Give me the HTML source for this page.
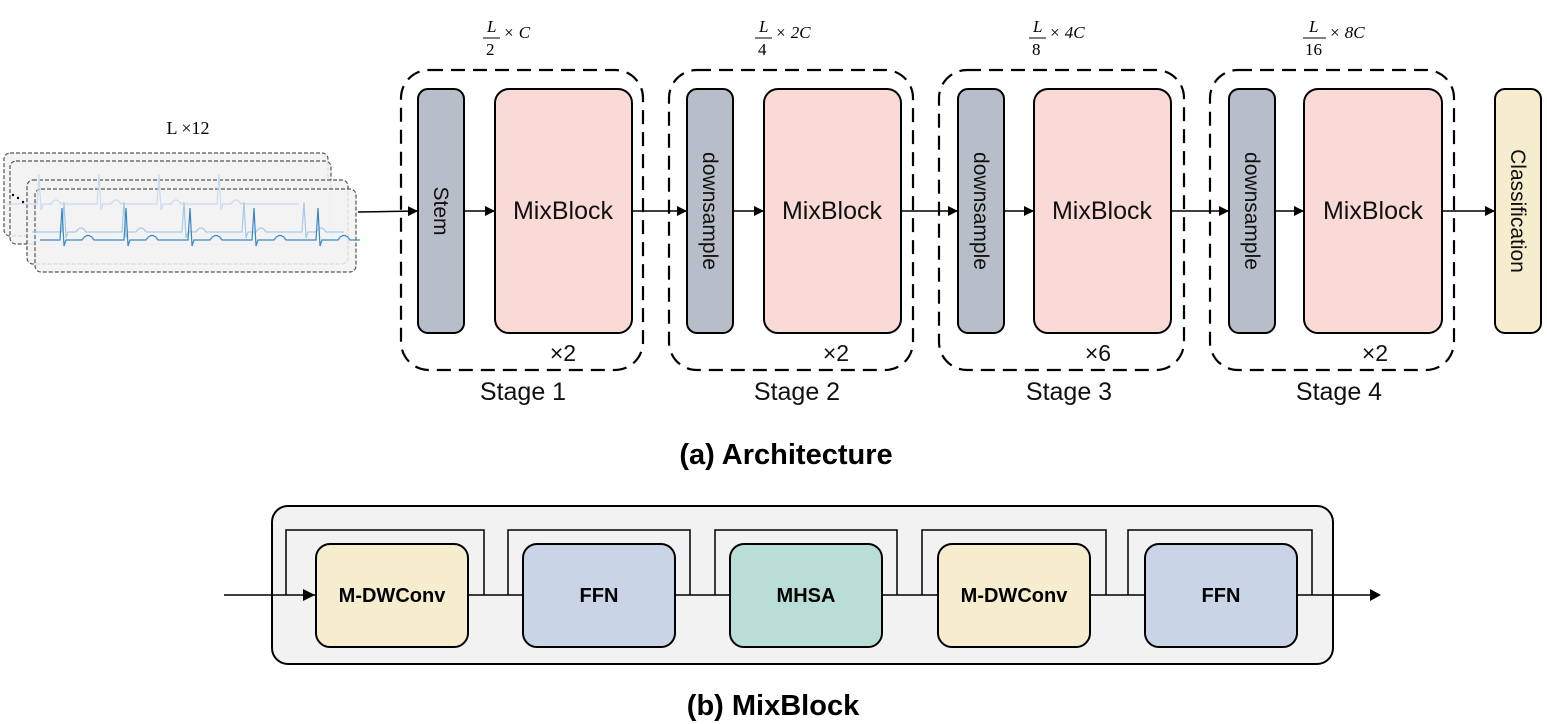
<!DOCTYPE html>
<html><head><meta charset="utf-8"><style>body{margin:0;background:#fff}svg{display:block}</style></head><body>
<svg width="1547" height="724" viewBox="0 0 1547 724" xmlns="http://www.w3.org/2000/svg" font-family="'Liberation Sans',sans-serif">
<defs><marker id="a" markerWidth="10" markerHeight="10" refX="9" refY="5" orient="auto" markerUnits="userSpaceOnUse"><path d="M0,0 L10,5 L0,10 z" fill="#000"/></marker></defs>
<g stroke="#555" stroke-dasharray="4,2" stroke-width="1.2" fill="#f2f2f2" fill-opacity="0.85">
<rect x="4" y="153" width="324" height="83" rx="6"/>
<rect x="10" y="161" width="321" height="83" rx="6"/>
<rect x="27" y="180" width="321" height="84" rx="6"/>
<rect x="35" y="189" width="321" height="83" rx="6"/>
</g>
<g fill="none" stroke-width="1.2">
<path d="M7,204 l30,0 l2,-30 l2,36 l2,-6 l8,0 q5,-8 10,0 l18,0 l18,0 l2,-30 l2,36 l2,-6 l8,0 q5,-8 10,0 l18,0 l18,0 l2,-30 l2,36 l2,-6 l8,0 q5,-8 10,0 l18,0 l18,0 l2,-30 l2,36 l2,-6 l8,0 q5,-8 10,0 l18,0 l40,0" stroke="#c9dcef"/>
<path d="M32,232 l30,0 l2,-30 l2,36 l2,-6 l8,0 q5,-8 10,0 l18,0 l18,0 l2,-30 l2,36 l2,-6 l8,0 q5,-8 10,0 l18,0 l18,0 l2,-30 l2,36 l2,-6 l8,0 q5,-8 10,0 l18,0 l18,0 l2,-30 l2,36 l2,-6 l8,0 q5,-8 10,0 l18,0 l18,0 l2,-30 l2,36 l2,-6 l8,0 q5,-8 10,0 l18,0" stroke="#a9c9e6"/>
<path d="M40,240 l20,0 l2,-32 l2,38 l2,-6 l16,0 q6,-9 12,0 l10,0 l20,0 l2,-32 l2,38 l2,-6 l16,0 q6,-9 12,0 l10,0 l20,0 l2,-32 l2,38 l2,-6 l16,0 q6,-9 12,0 l10,0 l20,0 l2,-32 l2,38 l2,-6 l16,0 q6,-9 12,0 l10,0 l20,0 l2,-32 l2,38 l2,-6 l16,0 q6,-9 12,0 l10,0" stroke="#3a87c8"/>
</g>
<circle cx="13" cy="195" r="1.2"/><circle cx="18" cy="198" r="1.2"/><circle cx="23" cy="202" r="1.2"/>
<text x="188" y="134" font-family="'Liberation Serif',serif" font-size="18" text-anchor="middle">L ×12</text>
<line x1="358" y1="212" x2="417" y2="211" stroke="#000" stroke-width="1.5" marker-end="url(#a)"/>
<g fill="none" stroke="#000" stroke-width="2.2" stroke-dasharray="14,8">
<rect x="401" y="70" width="242" height="300" rx="28"/>
<rect x="669" y="70" width="244" height="300" rx="28"/>
<rect x="939" y="70" width="245" height="300" rx="28"/>
<rect x="1210" y="70" width="244" height="300" rx="28"/>
</g>
<g stroke="#000" stroke-width="2">
<rect x="418" y="89" width="46" height="244" rx="10" fill="#b8bec9"/>
<rect x="687" y="89" width="46" height="244" rx="10" fill="#b8bec9"/>
<rect x="958" y="89" width="46" height="244" rx="10" fill="#b8bec9"/>
<rect x="1229" y="89" width="46" height="244" rx="10" fill="#b8bec9"/>
<rect x="495" y="89" width="137" height="244" rx="14" fill="#f9dad6"/>
<rect x="764" y="89" width="137" height="244" rx="14" fill="#f9dad6"/>
<rect x="1034" y="89" width="137" height="244" rx="14" fill="#f9dad6"/>
<rect x="1304" y="89" width="138" height="244" rx="14" fill="#f9dad6"/>
<rect x="1495" y="89" width="46" height="244" rx="10" fill="#f6edcf"/>
</g>
<g stroke="#000" stroke-width="1.5" marker-end="url(#a)">
<line x1="464" y1="211" x2="494" y2="211"/>
<line x1="632" y1="211" x2="686" y2="211"/>
<line x1="733" y1="211" x2="763" y2="211"/>
<line x1="901" y1="211" x2="957" y2="211"/>
<line x1="1004" y1="211" x2="1033" y2="211"/>
<line x1="1171" y1="211" x2="1228" y2="211"/>
<line x1="1275" y1="211" x2="1303" y2="211"/>
<line x1="1442" y1="211" x2="1494" y2="211"/>
</g>
<g font-size="25" text-anchor="middle" fill="#111">
<text x="563" y="219">MixBlock</text><text x="832" y="219">MixBlock</text><text x="1102" y="219">MixBlock</text><text x="1373" y="219">MixBlock</text>
<text x="563" y="361" font-size="23">×2</text><text x="836" y="361" font-size="23">×2</text><text x="1098" y="361" font-size="23">×6</text><text x="1375" y="361" font-size="23">×2</text>
<text x="523" y="400">Stage 1</text><text x="797" y="400">Stage 2</text><text x="1069" y="400">Stage 3</text><text x="1339" y="400">Stage 4</text>
</g>
<g font-size="21" text-anchor="middle" fill="#111">
<text transform="translate(441,211) rotate(90)" y="7">Stem</text>
<text transform="translate(710,211) rotate(90)" y="7">downsample</text>
<text transform="translate(981,211) rotate(90)" y="7">downsample</text>
<text transform="translate(1252,211) rotate(90)" y="7">downsample</text>
<text transform="translate(1518,211) rotate(90)" y="7">Classification</text>
</g>
<g font-family="'Liberation Serif',serif" font-size="17" font-style="italic">
<text x="487" y="32">L</text><line x1="483" y1="38" x2="500" y2="38" stroke="#000"/><text x="486" y="55" font-style="normal">2</text><text x="503" y="38">× C</text>
<text x="759" y="32">L</text><line x1="755" y1="38" x2="772" y2="38" stroke="#000"/><text x="758" y="55" font-style="normal">4</text><text x="775" y="38">× 2C</text>
<text x="1033" y="32">L</text><line x1="1029" y1="38" x2="1046" y2="38" stroke="#000"/><text x="1032" y="55" font-style="normal">8</text><text x="1049" y="38">× 4C</text>
<text x="1309" y="32">L</text><line x1="1303" y1="38" x2="1326" y2="38" stroke="#000"/><text x="1305" y="55" font-style="normal">16</text><text x="1329" y="38">× 8C</text>
</g>
<text x="786" y="464" font-size="29" font-weight="bold" text-anchor="middle">(a) Architecture</text>
<rect x="272" y="506" width="1061" height="158" rx="16" fill="#f2f2f2" stroke="#000" stroke-width="2"/>
<g fill="none" stroke="#000" stroke-width="1.5">
<line x1="224" y1="595" x2="1370" y2="595"/>
<path d="M286,595 V530 H484 V595"/><path d="M508,595 V530 H690 V595"/><path d="M715,595 V530 H897 V595"/><path d="M922,595 V530 H1106 V595"/><path d="M1128,595 V530 H1312 V595"/>
</g>
<path d="M1370,589 L1381,595 L1370,601 z"/><path d="M303,589 L315,595 L303,601 z"/>
<g stroke="#000" stroke-width="2">
<rect x="316" y="544" width="152" height="103" rx="14" fill="#f6edcf"/>
<rect x="523" y="544" width="152" height="103" rx="14" fill="#c9d4e6"/>
<rect x="730" y="544" width="152" height="103" rx="14" fill="#b9ded7"/>
<rect x="938" y="544" width="152" height="103" rx="14" fill="#f6edcf"/>
<rect x="1145" y="544" width="152" height="103" rx="14" fill="#c9d4e6"/>
</g>
<g font-size="20" font-weight="bold" text-anchor="middle">
<text x="392" y="602">M-DWConv</text><text x="599" y="602">FFN</text><text x="806" y="602">MHSA</text><text x="1014" y="602">M-DWConv</text><text x="1221" y="602">FFN</text>
</g>
<text x="773" y="715" font-size="29" font-weight="bold" text-anchor="middle">(b) MixBlock</text>
</svg>
</body></html>
